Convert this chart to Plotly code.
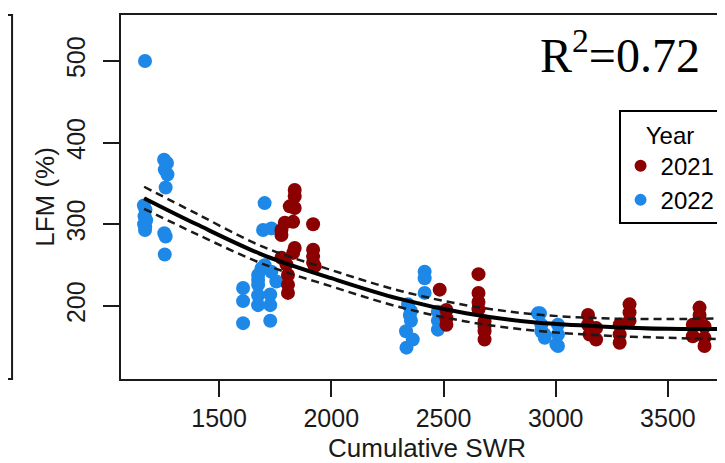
import plotly.graph_objects as go

# ---- data ----
swr_2022 = [1170, 1165, 1172, 1168, 1175, 1166, 1171, 1170,
            1255, 1268, 1258, 1270, 1262, 1256, 1262, 1258,
            1703, 1696, 1733, 1689, 1674, 1674, 1674, 1674, 1674,
            1607, 1607, 1607, 1728, 1728, 1728, 1755, 1703, 1733,
            2342, 2355, 2350, 2355, 2333, 2363, 2335,
            2416, 2416, 2416, 2475, 2475, 2475,
            2921, 2930, 2936, 2936, 2950, 3003, 3010, 3010, 3010, 2951]
lfm_2022 = [500, 323, 318, 310, 305, 300, 297, 293,
            379, 375, 367, 361, 345, 289, 285, 263,
            326, 293, 295, 246, 238, 226, 213, 201, 232,
            222, 206, 179, 214, 201, 182, 230, 250, 242,
            202, 194, 189, 182, 169, 159, 149,
            242, 234, 216, 193, 182, 171,
            191, 191, 177, 169, 165, 153, 177, 165, 151, 161]

swr_2021 = [1837, 1837, 1815, 1837, 1793, 1778, 1830, 1778, 1837, 1830,
            1778, 1800, 1807, 1807, 1807, 1919, 1919, 1919, 1919, 1926,
            2483, 2513, 2513, 2513,
            2656, 2656, 2656, 2656, 2683, 2683, 2683, 2683,
            3144, 3144, 3151, 3180, 3180, 3285, 3285, 3285, 3329, 3329, 3329,
            3641, 3641, 3611, 3611, 3663, 3663, 3663, 3775, 3775, 3775]
lfm_2021 = [342, 334, 322, 320, 302, 293, 303, 287, 271, 265,
            259, 251, 238, 226, 216, 300, 269, 261, 253, 249,
            220, 195, 185, 177,
            239, 216, 205, 196, 181, 175, 169, 159,
            189, 177, 165, 173, 159, 177, 165, 155, 202, 192, 182,
            198, 189, 177, 163, 175, 161, 151, 200, 189, 180]

# fitted curve and confidence band
fit_x = [1166, 1400, 1700, 2000, 2300, 2600, 2900, 3200, 3500, 3800]
fit_y = [332, 300, 262, 234, 209, 191, 180, 175, 172, 172]
upper_y = [346, 313, 272, 244, 219, 201, 190, 185, 184, 185]
lower_y = [319, 288, 251, 224, 199, 181, 170, 164, 161, 159]

x_ticks = [1500, 2000, 2500, 3000, 3500]
y_ticks = [200, 300, 400, 500]

RED = "#8B0000"
BLUE = "#1E88E8"
INK = "#1a1a1a"
FONT = "Liberation Sans, Arial, sans-serif"

fig = go.Figure()
fig.add_trace(go.Scatter(x=swr_2022, y=lfm_2022, mode="markers", name="2022",
                         legendrank=2,
                         marker=dict(color=BLUE, size=14, line=dict(width=0))))
fig.add_trace(go.Scatter(x=swr_2021, y=lfm_2021, mode="markers", name="2021",
                         legendrank=1,
                         marker=dict(color=RED, size=14, line=dict(width=0))))
for yy in (upper_y, lower_y):
    fig.add_trace(go.Scatter(x=fit_x, y=yy, mode="lines", showlegend=False,
                             line=dict(color=INK, width=2.5, dash="8px,5px", shape="spline")))
fig.add_trace(go.Scatter(x=fit_x, y=fit_y, mode="lines", showlegend=False,
                         line=dict(color="black", width=4, shape="spline")))

fig.add_annotation(text="R<sup>2</sup>=0.72", xref="paper", yref="paper",
                   x=0.815, y=0.897, xanchor="center", yanchor="middle", showarrow=False,
                   font=dict(family="Liberation Serif, Times New Roman, serif", size=48, color="black"))

# edge of the neighbouring panel on the left
fig.add_shape(type="path", xref="paper", yref="paper",
              path="M -0.185 1 L -0.178 1 L -0.178 0 L -0.185 0",
              line=dict(color=INK, width=2))

fig.update_layout(
    width=725, height=463,
    margin=dict(l=113, r=0, t=7, b=92, autoexpand=False),
    paper_bgcolor="white", plot_bgcolor="white",
    font=dict(family=FONT, size=25, color=INK),
    legend=dict(x=0.813, y=0.738, xanchor="left", yanchor="top",
                bordercolor="black", borderwidth=2, bgcolor="white",
                font=dict(size=24, color="black"),
                title=dict(text="Year", side="top center", font=dict(size=24, color="black")),
                itemwidth=30, itemsizing="constant", tracegroupgap=0),
    showlegend=True,
)
fig.update_xaxes(range=[1063, 3790], tickvals=x_ticks, ticks="outside", ticklen=16,
                 tickwidth=2, tickcolor=INK, showline=True, linewidth=2, linecolor=INK,
                 mirror=True, showgrid=False, zeroline=False, automargin=False,
                 title=dict(text="Cumulative SWR", font=dict(size=26), standoff=8),
                 tickfont=dict(size=25))
fig.update_yaxes(range=[110.6, 556.3], tickvals=y_ticks, ticks="outside", ticklen=16,
                 tickwidth=2, tickcolor=INK, showline=True, linewidth=2, linecolor=INK,
                 mirror=False, showgrid=False, zeroline=False, tickangle=-90, automargin=False,
                 ticklabelstandoff=8,
                 title=dict(text="LFM (%)", font=dict(size=26), standoff=0),
                 tickfont=dict(size=25))

fig.write_html("out.html")
